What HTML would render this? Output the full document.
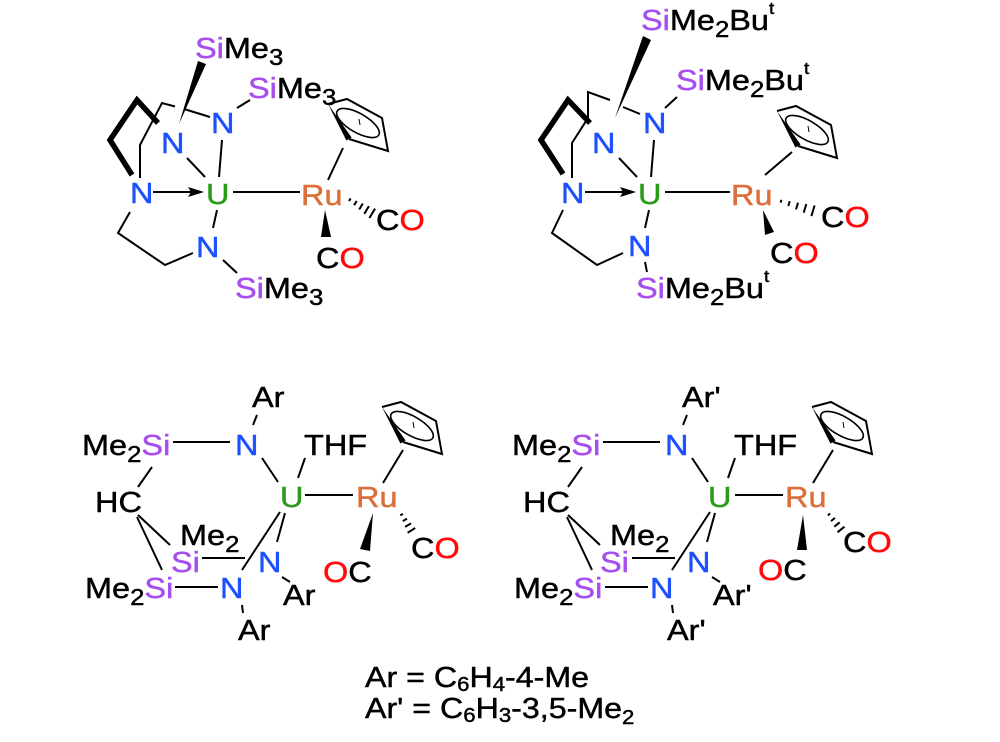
<!DOCTYPE html>
<html><head><meta charset="utf-8"><style>
html,body{margin:0;padding:0;background:#fff;}
svg{display:block;}
text{font-family:"Liberation Sans",Arial,sans-serif;font-size:29px;fill:#000;stroke:#000;stroke-width:0.45px;}
.N{fill:#1d50ff;stroke:#1d50ff}.Si{fill:#a64ef0;stroke:#a64ef0}.U{fill:#2b9a1c;stroke:#2b9a1c}.Ru{fill:#dc6e3a;stroke:#dc6e3a}.O{fill:#ff0a0a;stroke:#ff0a0a}
</style></head><body>
<svg width="1000" height="742" viewBox="0 0 1000 742" xmlns="http://www.w3.org/2000/svg">
<rect width="1000" height="742" fill="#fff"/>

<!-- ===== Top-left ===== -->
<g stroke="#000" stroke-width="2" fill="none">
<path d="M140,178 L140,145 L162,103 L175,106.5 M184,109 L210,117 M187,158 L205,177 M222,140 L219,177 M153,192 L192,192 M233,192 L300,192 M217,210 L213,228 M223,260 L237,273 M130,212 L118,233 L165,265 L193,253 M237,108 L250,100 M328,180 L343,148"/>
<polyline points="158,123 137,100 110,140 132,175" stroke-width="5.5"/>
<path d="M350.6,198.4 L349,201 M356.7,201 L354.1,205.2 M362.8,203.5 L359.2,209.5 M368.9,206.1 L364.3,213.8 M375.1,208.6 L369.4,218"/>
</g>
<polygon points="179,124 198,61 206,64" fill="#000"/>
<polygon points="204,192 188,187 191,192 188,197" fill="#000"/>
<polygon points="325,210 321,237 331,237" fill="#000"/>
<g transform="translate(328,104)">
<path d="M0,0 L19,-5 L54,14 L60,47 L21,35" stroke="#000" stroke-width="2" fill="none"/>
<polygon points="0,0 23.6,33.5 18.4,36.5" fill="#000"/>
<ellipse cx="30" cy="19" rx="24" ry="9.5" transform="rotate(30 30 19)" stroke="#000" stroke-width="1.6" fill="none"/>
<line x1="31" y1="15" x2="32" y2="21" stroke="#000" stroke-width="1"/>
</g>
<text transform="translate(195,58) scale(1.12,1)"><tspan class="Si">Si</tspan>Me<tspan font-size="23" dy="7">3</tspan></text>
<text transform="translate(248,98) scale(1.12,1)"><tspan class="Si">Si</tspan>Me<tspan font-size="23" dy="7">3</tspan></text>
<text class="N" transform="translate(161,153) scale(1.12,1)">N</text>
<text class="N" transform="translate(211,133) scale(1.12,1)">N</text>
<text class="N" transform="translate(130,203) scale(1.12,1)">N</text>
<text class="U" transform="translate(206,204) scale(1.12,1)">U</text>
<text class="N" transform="translate(196,257) scale(1.12,1)">N</text>
<text transform="translate(235,298) scale(1.12,1)"><tspan class="Si">Si</tspan>Me<tspan font-size="23" dy="7">3</tspan></text>
<text class="Ru" transform="translate(301,205) scale(1.12,1)">Ru</text>
<text transform="translate(376,230) scale(1.12,1)">C<tspan class="O">O</tspan></text>
<text transform="translate(316,268) scale(1.12,1)">C<tspan class="O">O</tspan></text>

<!-- ===== Top-right ===== -->
<g stroke="#000" stroke-width="2" fill="none">
<path d="M572,178 L572,143 L588,118 L588,92 L610,100 M623,107 L640,114 M619,158 L637,177 M654,140 L651,177 M585,192 L624,192 M665,192 L730,192 M649,210 L645,228 M645,262 L647,272 M563,210 L552,233 L597,265 L623,253 M665,108 L677,97 M765,175 L792,152"/>
<polyline points="590,123 568,100 541,140 563,174" stroke-width="5.5"/>
<path d="M781.4,199.8 L780.6,202.6 M789.7,201.2 L788.3,206 M798,202.7 L796,209.4 M806.3,204.1 L803.7,212.7 M814.6,205.5 L811.4,216.1"/>
</g>
<polygon points="615,118 643,36 651,40" fill="#000"/>
<polygon points="636,192 620,187 623,192 620,197" fill="#000"/>
<polygon points="763,210 765,235 774,232" fill="#000"/>
<g transform="translate(777,111)">
<path d="M0,0 L19,-5 L54,14 L60,47 L21,35" stroke="#000" stroke-width="2" fill="none"/>
<polygon points="0,0 23.6,33.5 18.4,36.5" fill="#000"/>
<ellipse cx="30" cy="19" rx="24" ry="9.5" transform="rotate(30 30 19)" stroke="#000" stroke-width="1.6" fill="none"/>
<line x1="31" y1="15" x2="32" y2="21" stroke="#000" stroke-width="1"/>
</g>
<text transform="translate(641,30) scale(1.12,1)"><tspan class="Si">Si</tspan>Me<tspan font-size="23" dy="7">2</tspan><tspan dy="-7">Bu</tspan><tspan font-size="17" dy="-16">t</tspan></text>
<text transform="translate(676,90) scale(1.12,1)"><tspan class="Si">Si</tspan>Me<tspan font-size="23" dy="7">2</tspan><tspan dy="-7">Bu</tspan><tspan font-size="17" dy="-16">t</tspan></text>
<text class="N" transform="translate(592,153) scale(1.12,1)">N</text>
<text class="N" transform="translate(643,133) scale(1.12,1)">N</text>
<text class="N" transform="translate(561,203) scale(1.12,1)">N</text>
<text class="U" transform="translate(638,204) scale(1.12,1)">U</text>
<text class="N" transform="translate(628,256) scale(1.12,1)">N</text>
<text transform="translate(636,298) scale(1.12,1)"><tspan class="Si">Si</tspan>Me<tspan font-size="23" dy="7">2</tspan><tspan dy="-7">Bu</tspan><tspan font-size="17" dy="-16">t</tspan></text>
<text class="Ru" transform="translate(731,205) scale(1.12,1)">Ru</text>
<text transform="translate(821,227) scale(1.12,1)">C<tspan class="O">O</tspan></text>
<text transform="translate(770,263) scale(1.12,1)">C<tspan class="O">O</tspan></text>

<!-- ===== Bottom-left ===== -->
<g stroke="#000" stroke-width="2" fill="none">
<path d="M257,415 L253,425 M173,442 L230,442 M262,458 L278,482 M305,458 L298,478 M305,495 L353,495 M383,483 L403,450 M152,467 L138,487 M138,515 L170,545 M137,517 L162,570 M202,558 L245,558 M285,513 L277,542 M280,512 L242,570 M282,577 L290,582 M175,587 L218,587 M242,605 L243,613"/>
<path d="M402.9,513.8 L400.3,515.4 M407,518.6 L402.8,521.2 M411.1,523.3 L405.1,526.9 M415.2,528 L407.6,532.8"/>
</g>
<polygon points="373,513 360,549 370,551" fill="#000"/>
<g transform="translate(382,407)">
<path d="M0,0 L19,-5 L54,14 L60,47 L21,35" stroke="#000" stroke-width="2" fill="none"/>
<polygon points="0,0 23.6,33.5 18.4,36.5" fill="#000"/>
<ellipse cx="30" cy="19" rx="24" ry="9.5" transform="rotate(30 30 19)" stroke="#000" stroke-width="1.6" fill="none"/>
<line x1="31" y1="15" x2="32" y2="21" stroke="#000" stroke-width="1"/>
</g>
<text transform="translate(252,407) scale(1.12,1)">Ar</text>
<text transform="translate(82,455) scale(1.12,1)">Me<tspan font-size="23" dy="7">2</tspan><tspan class="Si" dy="-7">Si</tspan></text>
<text class="N" transform="translate(235,455) scale(1.12,1)">N</text>
<text transform="translate(304,455) scale(1.12,1)">THF</text>
<text class="U" transform="translate(280,507) scale(1.12,1)">U</text>
<text class="Ru" transform="translate(356,507) scale(1.12,1)">Ru</text>
<text transform="translate(95,512) scale(1.12,1)">HC</text>
<text transform="translate(180,545) scale(1.12,1)">Me<tspan font-size="23" dy="7">2</tspan></text>
<text class="Si" transform="translate(171,572) scale(1.12,1)">Si</text>
<text class="N" transform="translate(258,572) scale(1.12,1)">N</text>
<text transform="translate(283,605) scale(1.12,1)">Ar</text>
<text transform="translate(85,598) scale(1.12,1)">Me<tspan font-size="23" dy="7">2</tspan><tspan class="Si" dy="-7">Si</tspan></text>
<text class="N" transform="translate(220,598) scale(1.12,1)">N</text>
<text transform="translate(238,640) scale(1.12,1)">Ar</text>
<text transform="translate(323,582) scale(1.12,1)"><tspan class="O">O</tspan>C</text>
<text transform="translate(411,558) scale(1.12,1)">C<tspan class="O">O</tspan></text>

<!-- ===== Bottom-right ===== -->
<g stroke="#000" stroke-width="2" fill="none">
<path d="M687,415 L683,425 M603,442 L660,442 M692,458 L708,482 M735,458 L728,478 M735,495 L783,495 M813,483 L833,450 M582,467 L568,487 M568,515 L600,545 M567,517 L592,570 M632,558 L675,558 M715,513 L707,542 M710,512 L672,570 M712,577 L720,582 M605,587 L648,587 M672,605 L673,613"/>
<path d="M830.2,513.6 L827.8,515.4 M835,517.9 L831,521.1 M839.7,522.3 L834.3,526.7 M844.5,526.7 L837.5,532.3"/>
</g>
<polygon points="803,515 797,550 807,550" fill="#000"/>
<g transform="translate(812,407)">
<path d="M0,0 L19,-5 L54,14 L60,47 L21,35" stroke="#000" stroke-width="2" fill="none"/>
<polygon points="0,0 23.6,33.5 18.4,36.5" fill="#000"/>
<ellipse cx="30" cy="19" rx="24" ry="9.5" transform="rotate(30 30 19)" stroke="#000" stroke-width="1.6" fill="none"/>
<line x1="31" y1="15" x2="32" y2="21" stroke="#000" stroke-width="1"/>
</g>
<text transform="translate(682,407) scale(1.12,1)">Ar'</text>
<text transform="translate(512,455) scale(1.12,1)">Me<tspan font-size="23" dy="7">2</tspan><tspan class="Si" dy="-7">Si</tspan></text>
<text class="N" transform="translate(665,455) scale(1.12,1)">N</text>
<text transform="translate(734,455) scale(1.12,1)">THF</text>
<text class="U" transform="translate(708,507) scale(1.12,1)">U</text>
<text class="Ru" transform="translate(785,507) scale(1.12,1)">Ru</text>
<text transform="translate(523,512) scale(1.12,1)">HC</text>
<text transform="translate(610,545) scale(1.12,1)">Me<tspan font-size="23" dy="7">2</tspan></text>
<text class="Si" transform="translate(600,572) scale(1.12,1)">Si</text>
<text class="N" transform="translate(687,572) scale(1.12,1)">N</text>
<text transform="translate(713,605) scale(1.12,1)">Ar'</text>
<text transform="translate(514,598) scale(1.12,1)">Me<tspan font-size="23" dy="7">2</tspan><tspan class="Si" dy="-7">Si</tspan></text>
<text class="N" transform="translate(650,598) scale(1.12,1)">N</text>
<text transform="translate(667,640) scale(1.12,1)">Ar'</text>
<text transform="translate(758,580) scale(1.12,1)"><tspan class="O">O</tspan>C</text>
<text transform="translate(843,552) scale(1.12,1)">C<tspan class="O">O</tspan></text>

<!-- ===== Legend ===== -->
<text transform="translate(365,687) scale(1.11,1)">Ar = C<tspan font-size="20" dy="4">6</tspan><tspan dy="-4">H</tspan><tspan font-size="20" dy="4">4</tspan><tspan dy="-4">-4-Me</tspan></text>
<text transform="translate(365,718) scale(1.11,1)">Ar' = C<tspan font-size="20" dy="4">6</tspan><tspan dy="-4">H</tspan><tspan font-size="20" dy="4">3</tspan><tspan dy="-4">-3,5-Me</tspan><tspan font-size="20" dy="6">2</tspan></text>
</svg>
</body></html>
